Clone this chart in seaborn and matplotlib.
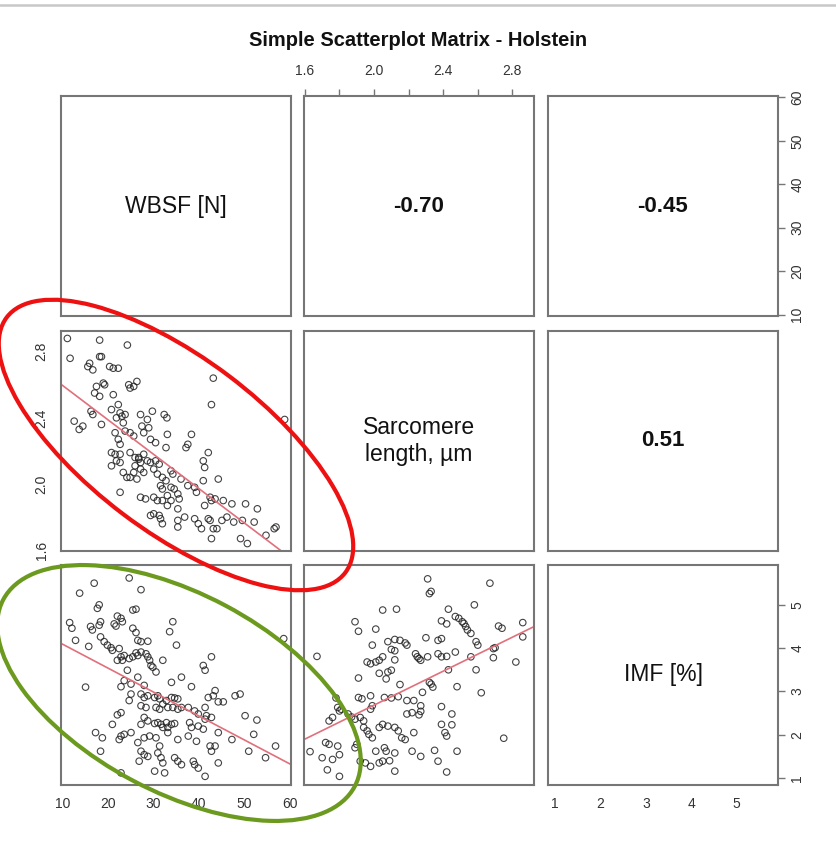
import numpy as np
import pandas as pd
import matplotlib
matplotlib.use("Agg")
import matplotlib.pyplot as plt
import seaborn as sns
from matplotlib.patches import Ellipse
from matplotlib.lines import Line2D
from matplotlib.transforms import IdentityTransform

sns.set_style("white")
plt.rcParams["font.family"] = ["Liberation Sans", "DejaVu Sans"]

title = "Simple Scatterplot Matrix - Holstein"
var_labels = ["WBSF [N]", "Sarcomere\nlength, µm", "IMF [%]"]
corr_labels = {"wbsf_sl": "-0.70", "wbsf_imf": "-0.45", "sl_imf": "0.51"}

# Panel: WBSF (x) vs Sarcomere length (y)
wbsf_a = [11.1, 18.2, 24.3, 11.7, 16.0, 15.6, 16.7, 18.2, 18.6, 20.4, 21.2, 22.3, 24.6, 26.4, 25.7, 24.9,
          19.3, 19.0, 17.5, 17.1, 18.2, 21.2, 43.2, 42.8, 58.9, 16.3, 16.7, 18.6, 12.6, 14.5, 13.7, 20.8,
          22.3, 22.7, 23.1, 23.8, 21.9, 23.4, 27.2, 28.7, 29.8, 32.4, 33.0, 27.5, 29.0, 27.9, 29.4, 30.5,
          21.6, 22.3, 22.7, 23.8, 24.9, 25.7, 33.1, 38.4, 37.6, 37.2, 32.8, 20.8, 21.6, 22.7, 24.9, 26.0,
          26.8, 27.9, 28.7, 29.4, 30.5, 31.3, 21.9, 20.8, 22.7, 42.1, 41.0, 41.3, 27.2, 27.9, 25.7, 24.9,
          26.4, 23.4, 24.2, 30.1, 30.9, 32.0, 32.8, 33.9, 34.3, 36.1, 31.6, 32.0, 33.9, 34.6, 37.6, 39.1,
          39.5, 35.4, 35.7, 33.1, 33.9, 27.2, 28.3, 30.1, 30.9, 32.0, 33.1, 35.4, 22.7, 41.0, 44.3, 42.5,
          43.6, 45.4, 42.8, 41.3, 47.3, 50.3, 52.9, 29.4, 30.1, 31.3, 31.6, 32.0, 35.4, 35.4, 36.9, 39.1,
          39.9, 40.6, 42.1, 42.5, 43.2, 44.0, 45.1, 46.2, 47.7, 49.6, 52.2, 42.8, 49.2, 50.7, 54.8, 56.6,
          57.0, 26.8, 27.2, 26.0]
sl_a = [2.88, 2.87, 2.84, 2.76, 2.73, 2.71, 2.69, 2.77, 2.77, 2.71, 2.70, 2.70, 2.60, 2.62, 2.59, 2.58,
        2.60, 2.61, 2.59, 2.55, 2.53, 2.54, 2.64, 2.48, 2.39, 2.44, 2.42, 2.36, 2.38, 2.35, 2.33, 2.45,
        2.48, 2.43, 2.41, 2.42, 2.40, 2.37, 2.42, 2.39, 2.44, 2.42, 2.40, 2.35, 2.34, 2.31, 2.27, 2.25,
        2.31, 2.27, 2.24, 2.32, 2.31, 2.29, 2.30, 2.30, 2.24, 2.22, 2.22, 2.19, 2.18, 2.18, 2.19, 2.16,
        2.15, 2.18, 2.14, 2.13, 2.14, 2.12, 2.14, 2.11, 2.13, 2.19, 2.14, 2.10, 2.09, 2.07, 2.07, 2.04,
        2.03, 2.07, 2.04, 2.09, 2.06, 2.04, 2.02, 2.08, 2.06, 2.03, 1.99, 1.97, 1.98, 1.97, 1.99, 1.98,
        1.95, 1.94, 1.91, 1.93, 1.90, 1.92, 1.91, 1.92, 1.90, 1.90, 1.87, 1.85, 1.95, 2.02, 2.03, 1.92,
        1.91, 1.90, 1.90, 1.87, 1.88, 1.88, 1.85, 1.81, 1.82, 1.81, 1.79, 1.76, 1.78, 1.74, 1.80, 1.79,
        1.76, 1.73, 1.79, 1.78, 1.73, 1.73, 1.78, 1.80, 1.77, 1.78, 1.77, 1.67, 1.67, 1.64, 1.69, 1.73,
        1.74, 2.16, 2.13, 2.11]

# Panel: WBSF (x) vs IMF (y)
wbsf_b = [24.7, 17.0, 27.3, 13.8, 18.1, 17.7, 25.5, 26.2, 22.1, 22.9, 23.2, 11.6, 12.1, 18.4, 18.1, 16.2,
          16.6, 21.4, 21.8, 34.3, 33.6, 25.5, 26.2, 26.6, 27.3, 28.8, 12.9, 15.8, 18.4, 19.2, 19.9, 20.7,
          21.0, 35.1, 22.5, 22.9, 23.6, 24.7, 25.5, 26.6, 26.2, 27.3, 28.4, 28.8, 29.2, 29.5, 29.9, 30.6,
          22.1, 23.2, 32.1, 42.8, 41.0, 41.4, 58.7, 24.3, 26.6, 23.6, 22.9, 25.1, 28.0, 15.1, 34.0, 36.2,
          38.4, 43.6, 43.2, 42.1, 48.0, 49.1, 44.3, 45.4, 27.3, 28.0, 28.8, 30.3, 31.0, 31.4, 32.9, 34.0,
          34.7, 35.4, 25.1, 24.7, 27.3, 28.4, 30.6, 31.4, 32.1, 33.2, 34.3, 35.4, 36.2, 37.7, 39.1, 39.9,
          41.4, 41.7, 42.8, 41.4, 50.2, 52.8, 22.9, 22.1, 21.0, 28.0, 28.8, 27.3, 30.3, 31.0, 31.7, 32.1,
          32.9, 33.2, 34.0, 34.7, 38.0, 38.4, 39.9, 41.0, 44.3, 47.3, 52.1, 17.3, 18.8, 22.9, 23.6, 25.1,
          22.5, 26.6, 28.0, 29.2, 30.6, 33.2, 35.4, 37.7, 39.5, 42.5, 43.6, 42.8, 27.3, 28.0, 26.9, 28.8,
          31.4, 31.0, 31.7, 32.1, 34.7, 35.4, 36.2, 38.8, 39.1, 39.9, 44.3, 51.0, 54.7, 56.9, 18.4, 22.9,
          30.3, 32.5, 41.4]
imf_b = [5.62, 5.50, 5.35, 5.27, 5.00, 4.92, 4.88, 4.90, 4.74, 4.69, 4.61, 4.59, 4.46, 4.61, 4.53, 4.50,
         4.42, 4.56, 4.51, 4.61, 4.38, 4.46, 4.36, 4.18, 4.15, 4.16, 4.18, 4.04, 4.26, 4.15, 4.07, 4.01,
         3.95, 4.07, 3.99, 3.80, 3.83, 3.76, 3.80, 3.83, 3.89, 3.91, 3.87, 3.80, 3.72, 3.60, 3.56, 3.45,
         3.72, 3.72, 3.72, 3.80, 3.60, 3.49, 4.22, 3.49, 3.33, 3.25, 3.11, 3.17, 3.14, 3.10, 3.21, 3.33,
         3.11, 3.02, 2.90, 2.86, 2.90, 2.94, 2.76, 2.76, 2.94, 2.86, 2.90, 2.86, 2.90, 2.83, 2.79, 2.86,
         2.85, 2.83, 2.94, 2.79, 2.67, 2.63, 2.63, 2.59, 2.71, 2.63, 2.63, 2.59, 2.63, 2.63, 2.55, 2.48,
         2.63, 2.44, 2.40, 2.36, 2.44, 2.34, 2.51, 2.46, 2.24, 2.40, 2.32, 2.24, 2.26, 2.28, 2.24, 2.17,
         2.28, 2.17, 2.24, 2.26, 2.28, 2.17, 2.20, 2.13, 2.05, 1.89, 2.01, 2.05, 1.93, 1.97, 2.01, 2.05,
         1.89, 1.82, 1.93, 1.97, 1.93, 2.05, 1.89, 1.97, 1.85, 1.74, 1.74, 1.62, 1.62, 1.54, 1.39, 1.50,
         1.74, 1.58, 1.47, 1.35, 1.47, 1.39, 1.31, 1.39, 1.31, 1.23, 1.35, 1.62, 1.47, 1.74, 1.62, 1.12,
         1.16, 1.12, 1.04]

# Panel: Sarcomere length (x) vs IMF (y)
sl_c = [2.31, 2.67, 2.33, 2.32, 2.05, 2.13, 2.43, 2.58, 2.47, 2.49, 2.51, 2.52, 2.53, 2.54, 2.56, 2.39,
        2.42, 1.89, 1.91, 2.01, 2.72, 2.74, 2.86, 2.86, 1.99, 2.08, 2.12, 2.15, 2.18, 2.19, 2.10, 2.12,
        2.30, 2.37, 2.39, 2.59, 2.60, 2.69, 2.70, 2.05, 2.03, 2.01, 1.98, 1.96, 2.12, 2.24, 2.25, 2.26,
        2.27, 2.31, 2.37, 2.39, 2.42, 2.47, 2.56, 2.69, 2.82, 1.67, 2.43, 2.59, 2.03, 2.08, 2.10, 2.07,
        1.91, 2.15, 2.32, 2.33, 2.34, 2.28, 2.48, 2.62, 1.91, 1.93, 1.98, 1.99, 1.98, 2.06, 2.10, 2.14,
        2.19, 2.23, 2.27, 2.39, 1.78, 1.79, 1.80, 1.81, 1.85, 1.87, 1.89, 1.92, 1.94, 1.76, 1.74, 2.19,
        2.22, 2.26, 2.27, 2.45, 1.94, 1.96, 1.97, 1.99, 2.03, 2.05, 2.08, 2.12, 2.14, 2.16, 2.18, 2.23,
        2.39, 2.45, 2.41, 2.42, 1.90, 1.89, 1.79, 1.80, 1.74, 1.72, 1.63, 1.70, 1.76, 1.73, 1.80, 2.06,
        2.07, 2.01, 2.12, 2.22, 2.27, 2.35, 2.37, 2.48, 2.42, 1.92, 1.95, 1.98, 2.03, 2.05, 2.09, 2.12,
        2.75]
imf_c = [5.60, 5.50, 5.31, 5.26, 4.88, 4.90, 4.90, 5.00, 4.73, 4.69, 4.61, 4.57, 4.50, 4.42, 4.34, 4.63,
         4.56, 4.61, 4.39, 4.44, 4.51, 4.46, 4.59, 4.26, 4.07, 4.15, 4.20, 4.18, 4.12, 4.07, 3.97, 3.94,
         4.24, 4.18, 4.22, 4.15, 4.07, 3.99, 4.01, 3.80, 3.72, 3.68, 3.64, 3.68, 3.73, 3.87, 3.80, 3.76,
         3.72, 3.80, 3.87, 3.80, 3.81, 3.91, 3.80, 3.78, 3.68, 3.81, 3.50, 3.50, 3.42, 3.45, 3.49, 3.29,
         3.31, 3.16, 3.21, 3.17, 3.10, 2.98, 3.11, 2.97, 2.86, 2.83, 2.90, 2.67, 2.59, 2.86, 2.85, 2.88,
         2.79, 2.79, 2.67, 2.65, 2.85, 2.63, 2.55, 2.59, 2.48, 2.41, 2.36, 2.40, 2.32, 2.40, 2.32, 2.48,
         2.51, 2.46, 2.54, 2.48, 2.17, 2.09, 2.01, 1.93, 2.17, 2.24, 2.20, 2.17, 2.09, 1.93, 1.89, 2.05,
         2.24, 2.23, 2.05, 1.97, 1.78, 1.70, 1.74, 1.54, 1.78, 1.82, 1.61, 1.47, 1.43, 1.19, 1.04, 1.70,
         1.62, 1.62, 1.58, 1.62, 1.50, 1.64, 1.39, 1.62, 1.14, 1.39, 1.35, 1.27, 1.35, 1.39, 1.40, 1.16,
         1.92]

wbsf_ticks = [10, 20, 30, 40, 50, 60]
sl_ticks = [1.6, 1.8, 2.0, 2.2, 2.4, 2.6, 2.8]
sl_ticklabels = ["1.6", "", "2.0", "", "2.4", "", "2.8"]
imf_ticks = [1, 2, 3, 4, 5]

lims = {"wbsf": (9.7, 60.3), "sl": (1.595, 2.925), "imf": (0.84, 5.92)}

W, H = 836, 842
fig = plt.figure(figsize=(W / 100, H / 100), dpi=100)
fig.patch.set_facecolor("white")

col_left = [61, 304, 548]
col_w = 230
row_top = [96, 331, 565]
row_h = 220

frame_col = "#767676"
tick_col = "#333333"
tick_size = 10


def make_ax(r, c):
    ax = fig.add_axes([col_left[c] / W, (H - row_top[r] - row_h) / H, col_w / W, row_h / H])
    ax.set_facecolor("white")
    for s in ax.spines.values():
        s.set_color(frame_col)
        s.set_linewidth(1.5)
        s.set_visible(True)
    ax.set_xticks([])
    ax.set_yticks([])
    ax.set_xlabel("")
    ax.set_ylabel("")
    return ax


axes = {}
for r in range(3):
    for c in range(3):
        axes[(r, c)] = make_ax(r, c)

# diagonal labels
for i in range(3):
    ax = axes[(i, i)]
    ax.text(0.5, 0.5, var_labels[i], transform=ax.transAxes, ha="center", va="center",
            fontsize=16.5, color="#111111", linespacing=1.2)

# upper correlations
for (r, c), key in [((0, 1), "wbsf_sl"), ((0, 2), "wbsf_imf"), ((1, 2), "sl_imf")]:
    ax = axes[(r, c)]
    ax.text(0.5, 0.5, corr_labels[key], transform=ax.transAxes, ha="center", va="center",
            fontsize=16, fontweight="bold", color="#111111")

point_kw = dict(marker="o", s=22, facecolor="none", edgecolor="#222222", linewidth=0.8, alpha=0.85)
line_kw = dict(color="#e0707c", lw=1.2)

# lower panels
panels = [((1, 0), wbsf_a, sl_a, "wbsf", "sl"),
          ((2, 0), wbsf_b, imf_b, "wbsf", "imf"),
          ((2, 1), sl_c, imf_c, "sl", "imf")]
for (r, c), xs, ys, xv, yv in panels:
    ax = axes[(r, c)]
    df = pd.DataFrame({"x": xs, "y": ys})
    ax.set_xlim(*lims[xv])
    ax.set_ylim(*lims[yv])
    sns.regplot(data=df, x="x", y="y", ax=ax, scatter=False, ci=None, truncate=False, line_kws=line_kw)
    sns.scatterplot(data=df, x="x", y="y", ax=ax, legend=False, **point_kw)
    ax.set_xlim(*lims[xv])
    ax.set_ylim(*lims[yv])
    ax.set_xlabel("")
    ax.set_ylabel("")
    ax.set_xticks([])
    ax.set_yticks([])

axes[(0, 1)].set_xlim(*lims["sl"])
axes[(0, 2)].set_ylim(*lims["wbsf"])
axes[(2, 2)].set_xlim(*lims["imf"])
axes[(2, 2)].set_ylim(*lims["imf"])

# outer axes
ax = axes[(0, 1)]
ax.xaxis.tick_top()
ax.set_xticks(sl_ticks)
ax.set_xticklabels(sl_ticklabels)

ax = axes[(0, 2)]
ax.yaxis.tick_right()
ax.set_yticks(wbsf_ticks)
ax.set_yticklabels([str(t) for t in wbsf_ticks], rotation=90, va="center")

ax = axes[(1, 0)]
ax.set_yticks(sl_ticks)
ax.set_yticklabels(sl_ticklabels, rotation=90, va="center")

ax = axes[(2, 0)]
ax.set_xticks(wbsf_ticks)
ax.set_xticklabels([str(t) for t in wbsf_ticks])

ax = axes[(2, 2)]
ax.set_xticks(imf_ticks)
ax.set_xticklabels([str(t) for t in imf_ticks])
ax.yaxis.tick_right()
ax.set_yticks(imf_ticks)
ax.set_yticklabels([str(t) for t in imf_ticks], rotation=90, va="center")

for a in axes.values():
    a.tick_params(direction="out", length=5, width=1.0, color=frame_col,
                  labelcolor=tick_col, labelsize=tick_size, pad=4)
axes[(0, 1)].tick_params(axis="x", pad=8)

# title and top border line
fig.text(418 / W, 1 - 40 / H, title, ha="center", va="center", fontsize=14.5, fontweight="bold",
         color="#111111")
fig.add_artist(Line2D([0, 1], [1 - 5 / H, 1 - 5 / H], transform=fig.transFigure,
                      color="#c8c8c8", lw=1.8))

# annotation ellipses (pixel coordinates)
red = Ellipse((176, H - 445), width=424, height=174, angle=-37, transform=IdentityTransform(),
              fill=False, edgecolor="#ee1111", lw=3.0, clip_on=False)
green = Ellipse((179, H - 693), width=398, height=198, angle=-28, transform=IdentityTransform(),
                fill=False, edgecolor="#6b9a1f", lw=3.0, clip_on=False)
fig.add_artist(red)
fig.add_artist(green)

fig.savefig("out.png", dpi=100, facecolor="white")
